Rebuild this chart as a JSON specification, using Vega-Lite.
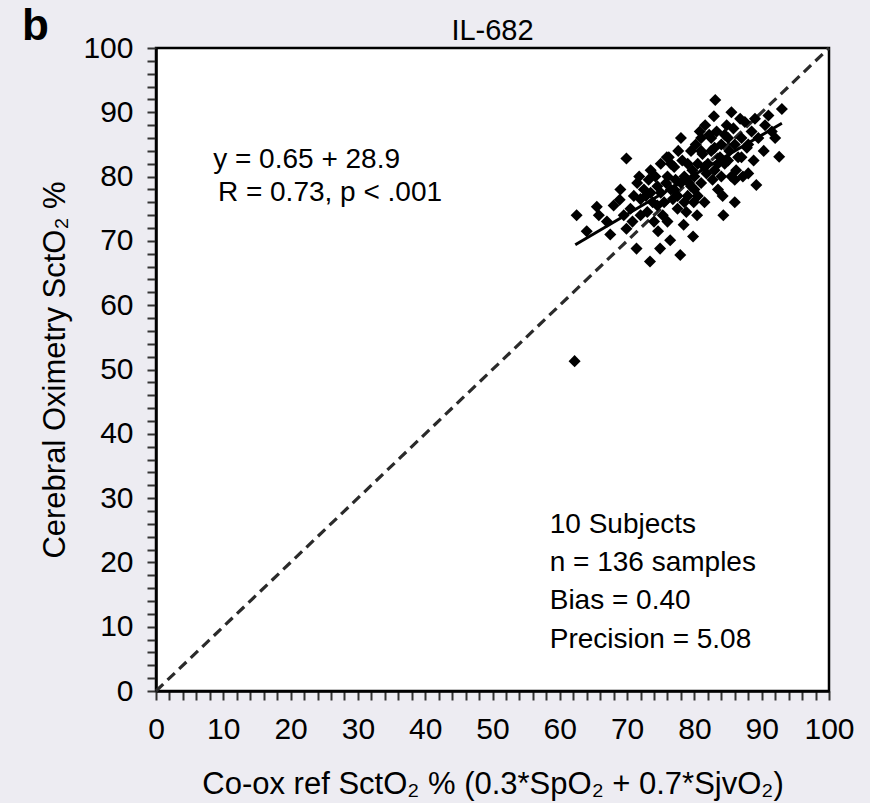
{
  "$schema": "https://vega.github.io/schema/vega-lite/v6.json",
  "width": 673,
  "height": 643,
  "autosize": "none",
  "padding": {"left": 156, "top": 48, "right": 41, "bottom": 112},
  "background": "#edecf2",
  "config": {
    "font": "Liberation Sans",
    "view": {"stroke": "#000000", "strokeWidth": 2.5, "fill": "#ffffff"},
    "axis": {"grid": false, "domainColor": "#000000", "domainWidth": 2.5, "tickColor": "#333333", "tickWidth": 2, "tickSize": 9, "labelColor": "#000000", "labelFontSize": 30, "labelFont": "Liberation Sans", "titleFont": "Liberation Sans", "titleFontSize": 31, "titleFontWeight": "normal", "titleColor": "#000000"}
  },
  "datasets": {
    "identity": [{"x": 0, "y": 0}, {"x": 100, "y": 100}],
    "fit": [{"x": 62.3, "y": 69.4}, {"x": 93.0, "y": 88.3}],
    "pts": [
      {"x": 62.2, "y": 51.3},
      {"x": 62.5, "y": 74.0}, {"x": 65.5, "y": 75.3}, {"x": 65.8, "y": 74.0}, {"x": 64.0, "y": 71.5},
      {"x": 67.0, "y": 73.0}, {"x": 68.0, "y": 75.5}, {"x": 68.9, "y": 76.4}, {"x": 69.5, "y": 74.0}, {"x": 69.9, "y": 82.8}, {"x": 69.9, "y": 71.9}, {"x": 67.5, "y": 71.0}, {"x": 69.0, "y": 78.0},
      {"x": 70.5, "y": 75.0}, {"x": 71.0, "y": 77.0}, {"x": 71.4, "y": 68.8}, {"x": 71.5, "y": 79.0}, {"x": 70.8, "y": 73.0}, {"x": 72.0, "y": 76.5}, {"x": 71.8, "y": 80.0},
      {"x": 72.5, "y": 78.0}, {"x": 73.0, "y": 74.5}, {"x": 73.4, "y": 66.8}, {"x": 73.5, "y": 81.0}, {"x": 72.8, "y": 77.0}, {"x": 73.8, "y": 76.0}, {"x": 73.2, "y": 79.5}, {"x": 74.0, "y": 73.0},
      {"x": 74.5, "y": 78.5}, {"x": 74.9, "y": 68.8}, {"x": 75.0, "y": 82.0}, {"x": 75.5, "y": 76.0}, {"x": 74.2, "y": 80.0}, {"x": 75.8, "y": 79.0}, {"x": 75.3, "y": 74.0}, {"x": 74.6, "y": 71.5}, {"x": 75.9, "y": 83.0},
      {"x": 76.4, "y": 70.1}, {"x": 76.5, "y": 78.0}, {"x": 77.0, "y": 81.5}, {"x": 77.5, "y": 75.0}, {"x": 76.2, "y": 83.0}, {"x": 77.9, "y": 67.8}, {"x": 77.2, "y": 79.5}, {"x": 76.8, "y": 76.5}, {"x": 77.6, "y": 84.0}, {"x": 76.0, "y": 73.0},
      {"x": 78.5, "y": 80.0}, {"x": 79.0, "y": 77.0}, {"x": 79.8, "y": 70.7}, {"x": 78.2, "y": 82.5}, {"x": 79.5, "y": 84.0}, {"x": 78.8, "y": 74.5}, {"x": 79.2, "y": 79.0}, {"x": 78.0, "y": 86.0}, {"x": 79.7, "y": 81.0}, {"x": 78.4, "y": 72.5}, {"x": 79.9, "y": 76.0},
      {"x": 80.5, "y": 82.0}, {"x": 81.0, "y": 79.0}, {"x": 80.2, "y": 85.0}, {"x": 81.5, "y": 76.0}, {"x": 80.8, "y": 87.0}, {"x": 81.2, "y": 83.5}, {"x": 81.8, "y": 80.5}, {"x": 80.4, "y": 74.0}, {"x": 81.6, "y": 88.0}, {"x": 80.0, "y": 78.0},
      {"x": 82.9, "y": 89.4}, {"x": 83.1, "y": 91.9}, {"x": 82.5, "y": 84.0}, {"x": 83.0, "y": 81.0}, {"x": 82.2, "y": 86.5}, {"x": 83.5, "y": 78.0}, {"x": 83.8, "y": 83.0}, {"x": 82.7, "y": 79.5}, {"x": 83.3, "y": 87.0}, {"x": 84.0, "y": 85.0},
      {"x": 84.3, "y": 74.0}, {"x": 84.5, "y": 82.0}, {"x": 85.0, "y": 86.0}, {"x": 85.5, "y": 80.0}, {"x": 84.8, "y": 88.0}, {"x": 85.2, "y": 84.0}, {"x": 86.0, "y": 79.5}, {"x": 85.8, "y": 87.5}, {"x": 84.2, "y": 77.0}, {"x": 85.5, "y": 90.0},
      {"x": 86.5, "y": 83.0}, {"x": 87.0, "y": 86.0}, {"x": 87.5, "y": 88.5}, {"x": 86.2, "y": 81.0}, {"x": 87.8, "y": 84.5}, {"x": 86.8, "y": 89.0}, {"x": 87.2, "y": 80.0}, {"x": 86.0, "y": 76.0},
      {"x": 88.5, "y": 87.0}, {"x": 89.2, "y": 78.7}, {"x": 88.0, "y": 85.0}, {"x": 89.0, "y": 89.0}, {"x": 88.8, "y": 82.5}, {"x": 89.5, "y": 86.0},
      {"x": 90.3, "y": 84.0}, {"x": 92.6, "y": 83.1}, {"x": 93.0, "y": 90.5}, {"x": 90.5, "y": 88.0}, {"x": 91.5, "y": 87.0}, {"x": 91.0, "y": 89.5}, {"x": 92.0, "y": 86.0},
      {"x": 75.0, "y": 77.5}, {"x": 76.0, "y": 80.0}, {"x": 77.0, "y": 78.0}, {"x": 78.0, "y": 79.0}, {"x": 79.0, "y": 82.0}, {"x": 80.0, "y": 80.0}, {"x": 81.0, "y": 84.0}, {"x": 82.0, "y": 82.0}, {"x": 83.0, "y": 84.5}, {"x": 84.0, "y": 80.0}, {"x": 85.0, "y": 82.5}, {"x": 86.0, "y": 85.0}, {"x": 87.0, "y": 83.0}, {"x": 76.5, "y": 82.0}, {"x": 77.5, "y": 77.0}, {"x": 78.5, "y": 76.0}, {"x": 79.5, "y": 78.5}, {"x": 80.5, "y": 77.0}, {"x": 81.5, "y": 81.5}, {"x": 82.5, "y": 86.0}, {"x": 83.5, "y": 82.0}, {"x": 84.5, "y": 86.5}, {"x": 73.5, "y": 77.5}, {"x": 74.5, "y": 75.5}, {"x": 72.0, "y": 74.0}, {"x": 88.0, "y": 80.5}, {"x": 81.0, "y": 86.0}
    ],
    "notes": [
      {"x": 8.5, "y": 82.6, "t": "y = 0.65 + 28.9"},
      {"x": 9.2, "y": 77.4, "t": "R = 0.73, p < .001"},
      {"x": 58.5, "y": 25.8, "t": "10 Subjects"},
      {"x": 58.5, "y": 19.9, "t": "n = 136 samples"},
      {"x": 58.5, "y": 14.0, "t": "Bias = 0.40"},
      {"x": 58.5, "y": 7.9, "t": "Precision = 5.08"}
    ],
    "heading": [{"x": 50, "y": 102.7, "t": "IL-682"}],
    "panel": [{"x": -19.9, "y": 103.2, "t": "b"}]
  },
  "layer": [
    {
      "data": {"name": "identity"},
      "mark": {"type": "line", "color": "#2a2a2a", "strokeWidth": 3.2, "strokeDash": [10, 6]},
      "encoding": {
        "x": {"field": "x", "type": "quantitative", "scale": {"domain": [0, 100], "nice": false},
          "axis": {"values": [0,2,4,6,8,10,12,14,16,18,20,22,24,26,28,30,32,34,36,38,40,42,44,46,48,50,52,54,56,58,60,62,64,66,68,70,72,74,76,78,80,82,84,86,88,90,92,94,96,98,100],
            "tickCount": 51,
            "labelExpr": "datum.value % 10 === 0 ? datum.label : ''", "labelPadding": 14, "labelFlush": false, "labelOverlap": false,
            "title": "Co-ox ref SctO₂ % (0.3*SpO₂ + 0.7*SjvO₂)", "titleBaseline": "middle", "titleY": 93}},
        "y": {"field": "y", "type": "quantitative", "scale": {"domain": [0, 100], "nice": false},
          "axis": {"values": [0,2,4,6,8,10,12,14,16,18,20,22,24,26,28,30,32,34,36,38,40,42,44,46,48,50,52,54,56,58,60,62,64,66,68,70,72,74,76,78,80,82,84,86,88,90,92,94,96,98,100],
            "tickCount": 51,
            "labelExpr": "datum.value % 10 === 0 ? datum.label : ''", "labelPadding": 14, "labelFlush": false, "labelOverlap": false,
            "title": "Cerebral Oximetry SctO₂ %", "titleX": -101, "titleBaseline": "middle"}}
      }
    },
    {
      "data": {"name": "fit"},
      "mark": {"type": "line", "color": "#000000", "strokeWidth": 3},
      "encoding": {
        "x": {"field": "x", "type": "quantitative"},
        "y": {"field": "y", "type": "quantitative"}
      }
    },
    {
      "data": {"name": "pts"},
      "mark": {"type": "point", "shape": "diamond", "filled": true, "color": "#000000", "opacity": 1, "size": 145},
      "encoding": {
        "x": {"field": "x", "type": "quantitative"},
        "y": {"field": "y", "type": "quantitative"}
      }
    },
    {
      "data": {"name": "notes"},
      "mark": {"type": "text", "align": "left", "baseline": "middle", "fontSize": 28, "font": "Liberation Sans", "color": "#000000"},
      "encoding": {
        "x": {"field": "x", "type": "quantitative"},
        "y": {"field": "y", "type": "quantitative"},
        "text": {"field": "t"}
      }
    },
    {
      "data": {"name": "heading"},
      "mark": {"type": "text", "align": "center", "baseline": "middle", "fontSize": 29, "font": "Liberation Sans", "color": "#000000"},
      "encoding": {
        "x": {"field": "x", "type": "quantitative"},
        "y": {"field": "y", "type": "quantitative"},
        "text": {"field": "t"}
      }
    },
    {
      "data": {"name": "panel"},
      "mark": {"type": "text", "align": "left", "baseline": "middle", "fontSize": 44, "fontWeight": "bold", "font": "Liberation Sans", "color": "#000000"},
      "encoding": {
        "x": {"field": "x", "type": "quantitative"},
        "y": {"field": "y", "type": "quantitative"},
        "text": {"field": "t"}
      }
    }
  ]
}
